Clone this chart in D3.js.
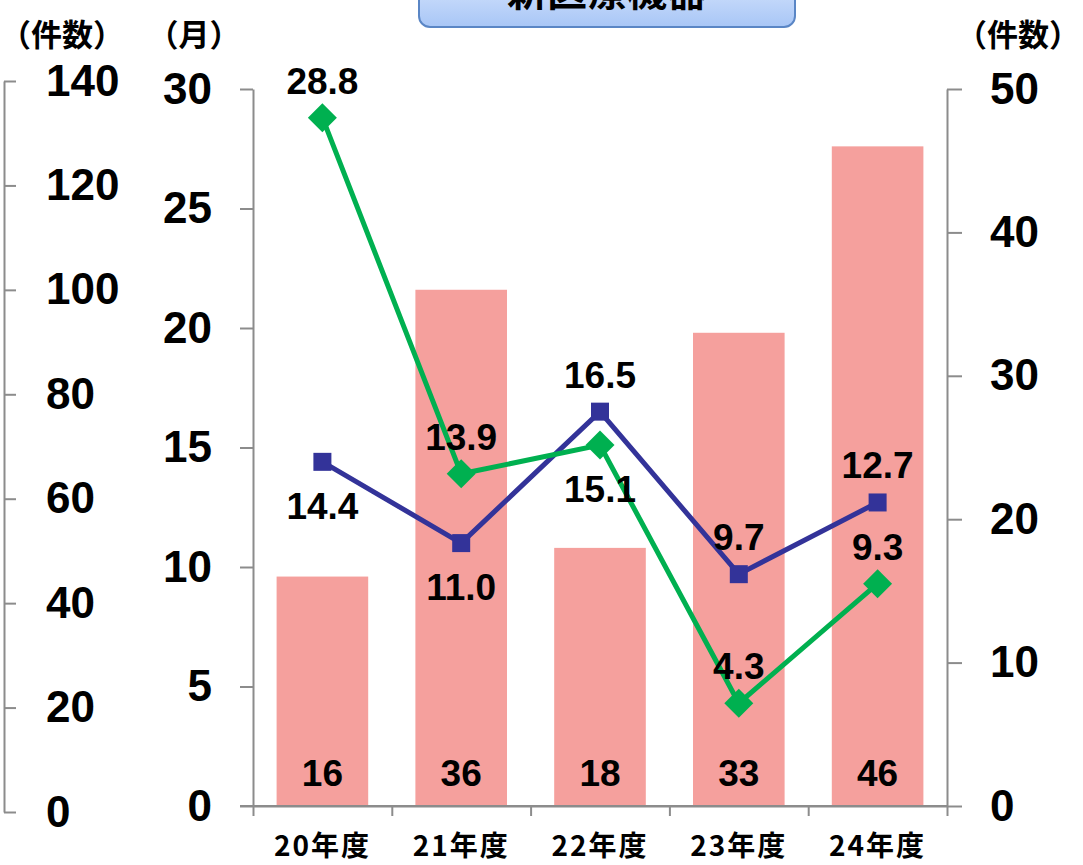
<!DOCTYPE html>
<html>
<head>
<meta charset="utf-8">
<script src="https://cdn.jsdelivr.net/npm/d3@7"></script>
<style>
  html, body { margin: 0; padding: 0; background: #fff; }
  svg { display: block; }
  .num { font-family: "Liberation Sans", Arial, sans-serif; font-weight: bold; fill: #000; }
  .jp { font-family: "Noto Sans CJK JP", sans-serif; font-weight: bold; fill: #000; }
</style>
</head>
<body>
<svg id="chart" width="1083" height="865"></svg>
<script>
// 新医療機器: 承認件数（棒）と審査期間（折れ線）
const categories = ["20年度", "21年度", "22年度", "23年度", "24年度"];
const approvals = [16, 36, 18, 33, 46];          // 件数（右軸）
const medianBlue = [14.4, 11.0, 16.5, 9.7, 12.7]; // 月（左内軸）
const medianGreen = [28.8, 13.9, 15.1, 4.3, 9.3]; // 月（左内軸）
const blueLabelSide = ["below", "below", "above", "above", "above"];
const greenLabelSide = ["above", "above", "below", "above", "above"];
const outerTicks = [0, 20, 40, 60, 80, 100, 120, 140];
const monthTicks = [0, 5, 10, 15, 20, 25, 30];
const countTicks = [0, 10, 20, 30, 40, 50];
const title = "新医療機器";

const svg = d3.select("#chart");
const axisColor = "#8c8c8c";

const plotLeft = 253, plotRight = 947;

const x = d3.scaleBand().domain(categories).range([plotLeft, plotRight]).padding(0);
const xEdge = d3.scaleLinear().domain([0, categories.length]).range([plotLeft, plotRight]);
const yMonth = d3.scaleLinear().domain([0, 30]).range([806, 89]);
const yCount = d3.scaleLinear().domain([0, 50]).range([806, 89]);
const yOuter = d3.scaleLinear().domain([0, 140]).range([812, 81]);

// title box
const defs = svg.append("defs");
const grad = defs.append("linearGradient").attr("id", "titleGrad")
  .attr("x1", 0).attr("y1", 0).attr("x2", 0).attr("y2", 1);
grad.append("stop").attr("offset", "0%").attr("stop-color", "#e6efff");
grad.append("stop").attr("offset", "100%").attr("stop-color", "#a8c6f6");
svg.append("rect")
  .attr("x", 419).attr("y", -40).attr("width", 376).attr("height", 67)
  .attr("rx", 11).attr("ry", 11)
  .attr("fill", "url(#titleGrad)").attr("stroke", "#5a86c5").attr("stroke-width", 2);
svg.append("text").attr("class", "jp")
  .attr("x", 607).attr("y", 6).attr("text-anchor", "middle")
  .attr("font-size", 40).text(title);

// axis unit labels
svg.append("text").attr("class", "jp").attr("x", 62).attr("y", 46)
  .attr("text-anchor", "middle").attr("font-size", 31).text("（件数）");
svg.append("text").attr("class", "jp").attr("x", 194).attr("y", 46)
  .attr("text-anchor", "middle").attr("font-size", 31).text("（月）");
svg.append("text").attr("class", "jp").attr("x", 1018).attr("y", 46)
  .attr("text-anchor", "middle").attr("font-size", 31).text("（件数）");

function styleAxis(g, fontSize) {
  g.select(".domain").attr("stroke", axisColor).attr("stroke-width", 2);
  g.selectAll(".tick line").attr("stroke", axisColor).attr("stroke-width", 2);
  g.selectAll(".tick text").attr("class", "num").attr("font-size", fontSize)
    .attr("fill", "#000");
  g.attr("font-family", null).attr("font-size", null);
}

// outer left axis (件数 0–140)
const gOuter = svg.append("g").attr("transform", "translate(4,0)")
  .call(d3.axisRight(yOuter).tickValues(outerTicks).tickSize(12).tickSizeOuter(0).tickPadding(30));
styleAxis(gOuter, 44);

// bars
svg.append("g").selectAll("rect").data(approvals).join("rect")
  .attr("x", (d, i) => x(categories[i]) + x.bandwidth() * 0.17)
  .attr("width", x.bandwidth() * 0.66)
  .attr("y", d => yCount(d))
  .attr("height", d => yCount(0) - yCount(d))
  .attr("fill", "#f5a09d");

// bar value labels
svg.append("g").selectAll("text").data(approvals).join("text")
  .attr("class", "num").attr("font-size", 37).attr("text-anchor", "middle")
  .attr("x", (d, i) => x(categories[i]) + x.bandwidth() / 2)
  .attr("y", yCount(0) - 20)
  .text(d => d);

// inner left axis (月 0–30)
const gMonth = svg.append("g").attr("transform", `translate(${plotLeft},0)`)
  .call(d3.axisLeft(yMonth).tickValues(monthTicks).tickSize(13).tickSizeOuter(0).tickPadding(28));
styleAxis(gMonth, 44);

// right axis (件数 0–50)
const gCount = svg.append("g").attr("transform", `translate(${plotRight},0)`)
  .call(d3.axisRight(yCount).tickValues(countTicks).tickSize(15).tickSizeOuter(0).tickPadding(28));
styleAxis(gCount, 44);

// category axis
const gX = svg.append("g").attr("transform", "translate(0,806)")
  .call(d3.axisBottom(xEdge).tickValues(d3.range(categories.length + 1)).tickSize(10).tickSizeOuter(0).tickFormat(""));
gX.select(".domain").attr("stroke", axisColor).attr("stroke-width", 2);
gX.selectAll(".tick line").attr("stroke", axisColor).attr("stroke-width", 2);
svg.append("line").attr("x1", 240).attr("x2", plotRight).attr("y1", 806).attr("y2", 806)
  .attr("stroke", axisColor).attr("stroke-width", 2);
svg.append("g").selectAll("text").data(categories).join("text")
  .attr("class", "jp").attr("font-size", 28).attr("text-anchor", "middle")
  .attr("x", d => x(d) + x.bandwidth() / 2).attr("y", 856)
  .attr("letter-spacing", 2)
  .text(d => d);

const cx = i => x(categories[i]) + x.bandwidth() / 2;
const line = d3.line().x((d, i) => cx(i)).y(d => yMonth(d));

// blue series
svg.append("path").datum(medianBlue).attr("d", line)
  .attr("fill", "none").attr("stroke", "#333399").attr("stroke-width", 5);
svg.append("g").selectAll("rect").data(medianBlue).join("rect")
  .attr("x", (d, i) => cx(i) - 9).attr("y", d => yMonth(d) - 9)
  .attr("width", 18).attr("height", 18).attr("fill", "#333399");

// green series
svg.append("path").datum(medianGreen).attr("d", line)
  .attr("fill", "none").attr("stroke", "#00b050").attr("stroke-width", 5);
svg.append("g").selectAll("path").data(medianGreen).join("path")
  .attr("d", d3.symbol(d3.symbolSquare, 420))
  .attr("transform", (d, i) => `translate(${cx(i)},${yMonth(d)}) rotate(45)`)
  .attr("fill", "#00b050");

// value labels on lines
function lineLabels(values, sides) {
  svg.append("g").selectAll("text").data(values).join("text")
    .attr("class", "num").attr("font-size", 37).attr("text-anchor", "middle")
    .attr("x", (d, i) => cx(i))
    .attr("y", (d, i) => yMonth(d) + (sides[i] === "above" ? -24 : 57))
    .text(d => d.toFixed(1));
}
lineLabels(medianBlue, blueLabelSide);
lineLabels(medianGreen, greenLabelSide);
</script>
</body>
</html>
